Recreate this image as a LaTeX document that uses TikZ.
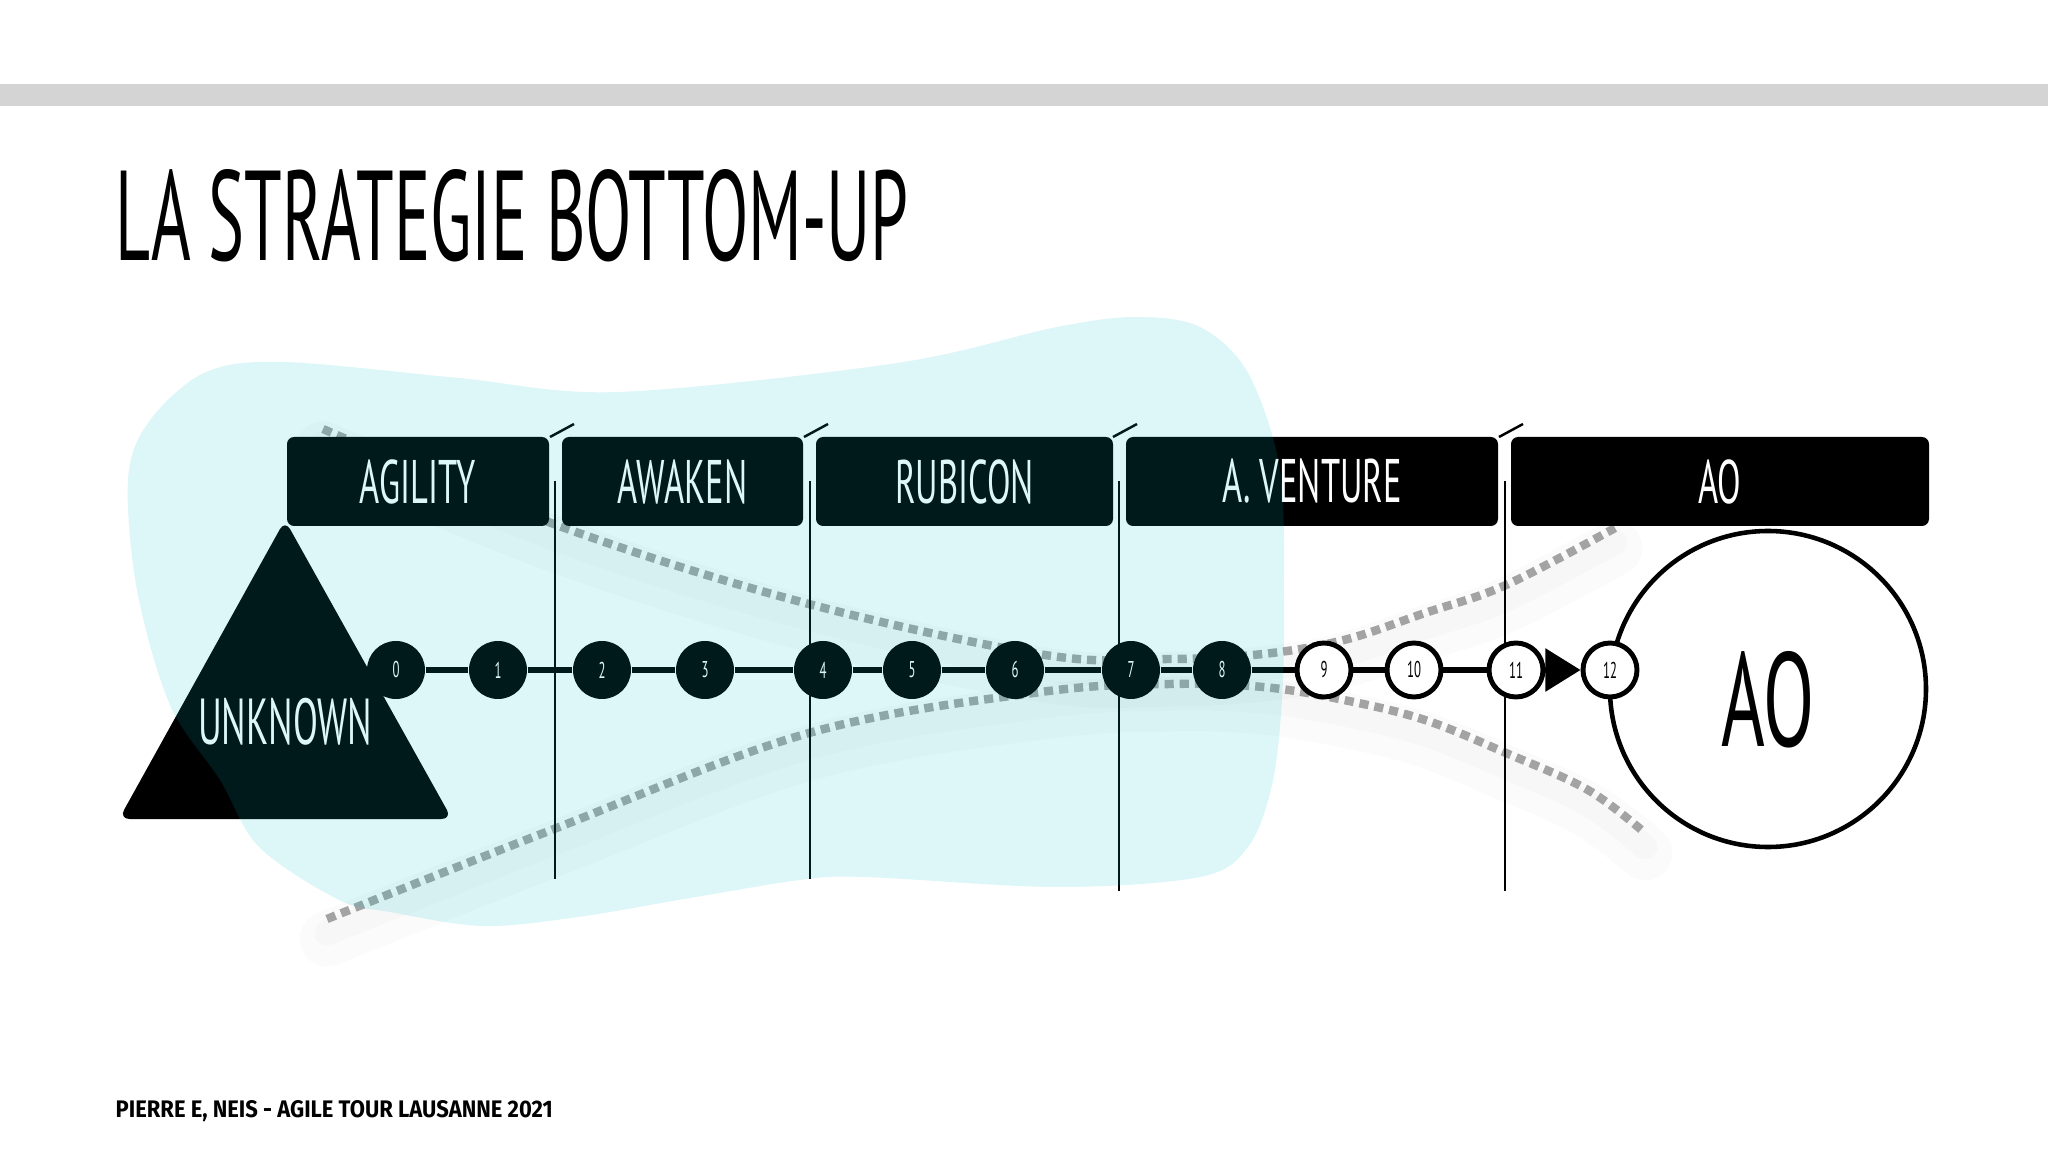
\documentclass[tikz,border=0pt]{standalone}
\usepackage{fontspec}
\usepackage{graphicx}
\usepackage{tikz}
\usetikzlibrary{arrows.meta}
\newfontfamily\handfont[FakeStretch=0.56]{PT Sans}
\newfontfamily\titlefont{PT Sans}
\newfontfamily\footfont{Fira Sans}
\definecolor{band}{HTML}{D4D4D4}
\definecolor{blob}{RGB}{0,195,210}
\definecolor{dots}{HTML}{A3A3A3}

\begin{document}
\begin{tikzpicture}[
  >=Stealth,
  phase/.style={fill=black, text=white, minimum width=#1, minimum height=0.89cm,
                inner sep=0pt, rounded corners=2pt,
                font=\handfont\fontsize{17.5}{18}\selectfont},
  dot/.style={circle, fill=black, text=white, minimum size=0.58cm, inner sep=0pt,
              font=\handfont\fontsize{6.5}{7}\selectfont},
  hollow/.style={circle, draw, line width=1.4pt, fill=white, minimum size=0.54cm,
                 inner sep=0pt, font=\handfont\fontsize{6.5}{7}\selectfont},
  link/.style={line width=1.5pt},
  sep/.style={line width=0.7pt},
  trail/.style={draw=dots, line width=2.4pt, dash pattern=on 2.6pt off 1.7pt},
  glow/.style={draw=black, line width=#1, opacity=0.016, line cap=round},
]
\useasboundingbox (0,0) rectangle (20.48,-11.52);
\fill[white] (0,0) rectangle (20.48,-11.52);
\fill[band] (0,-0.84) rectangle (20.48,-1.06);

% title and footer
\node[anchor=base west, inner sep=0pt] (title) at (1.15,-2.61)
  {\resizebox{7.93cm}{0.91cm}{\titlefont LA STRATEGIE BOTTOM-UP}};
\node[anchor=base west, inner sep=0pt] (credit) at (1.15,-11.17)
  {\resizebox{4.37cm}{0.17cm}{\footfont\bfseries PIERRE E, NEIS - AGILE TOUR LAUSANNE 2021}};

% dotted funnel (under the boxes)
\draw[glow=0.55cm, yshift=-0.2cm] plot[smooth, tension=0.6] coordinates {
  (3.23,-4.29) (5.62,-5.27) (8.05,-6.03) (10.45,-6.55) (11.70,-6.59)
  (12.63,-6.54) (13.44,-6.40) (14.25,-6.13) (15.06,-5.85) (16.15,-5.28)};
\draw[glow=0.25cm, yshift=-0.14cm] plot[smooth, tension=0.6] coordinates {
  (3.23,-4.29) (5.62,-5.27) (8.05,-6.03) (10.45,-6.55) (11.70,-6.59)
  (12.63,-6.54) (13.44,-6.40) (14.25,-6.13) (15.06,-5.85) (16.15,-5.28)};
\draw[glow=0.55cm, yshift=-0.2cm] plot[smooth, tension=0.6] coordinates {
  (3.27,-9.19) (5.54,-8.29) (8.09,-7.33) (10.41,-6.92) (11.70,-6.84)
  (12.63,-6.87) (13.44,-7.00) (14.25,-7.20) (15.06,-7.53) (15.88,-7.90) (16.45,-8.33)};
\draw[glow=0.25cm, yshift=-0.14cm] plot[smooth, tension=0.6] coordinates {
  (3.27,-9.19) (5.54,-8.29) (8.09,-7.33) (10.41,-6.92) (11.70,-6.84)
  (12.63,-6.87) (13.44,-7.00) (14.25,-7.20) (15.06,-7.53) (15.88,-7.90) (16.45,-8.33)};
\draw[trail] plot[smooth, tension=0.6] coordinates {
  (3.23,-4.29) (5.62,-5.27) (8.05,-6.03) (10.45,-6.55) (11.70,-6.59)
  (12.63,-6.54) (13.44,-6.40) (14.25,-6.13) (15.06,-5.85) (16.15,-5.28)};
\draw[trail] plot[smooth, tension=0.6] coordinates {
  (3.27,-9.19) (5.54,-8.29) (8.09,-7.33) (10.41,-6.92) (11.70,-6.84)
  (12.63,-6.87) (13.44,-7.00) (14.25,-7.20) (15.06,-7.53) (15.88,-7.90) (16.45,-8.33)};

% phases
\node[phase=2.62cm] (agility) at (4.18,-4.815)  {AGILITY};
\node[phase=2.41cm] (awaken)  at (6.825,-4.815) {AWAKEN};
\node[phase=2.97cm] (rubicon) at (9.645,-4.815) {RUBICON};
\node[phase=3.72cm] (venture) at (13.12,-4.815) {A. VENTURE};
\node[phase=4.18cm] (ao)      at (17.20,-4.815) {AO};

% separators
\draw[sep] (5.50,-4.37) -- (5.74,-4.24);
\draw[sep] (5.55,-4.81) -- (5.55,-8.79);
\draw[sep] (8.04,-4.37) -- (8.28,-4.24);
\draw[sep] (8.10,-4.81) -- (8.10,-8.79);
\draw[sep] (11.13,-4.37) -- (11.37,-4.24);
\draw[sep] (11.19,-4.81) -- (11.19,-8.91);
\draw[sep] (14.99,-4.37) -- (15.23,-4.24);
\draw[sep] (15.05,-4.81) -- (15.05,-8.91);

% start and goal
\fill[rounded corners=3pt] (2.85,-5.20) -- (4.52,-8.19) -- (1.19,-8.19) -- cycle;
\node[text=white, font=\handfont\fontsize{18.5}{19}\selectfont] (unknown) at (2.85,-7.22) {UNKNOWN};
\node[circle, draw, line width=1.3pt, fill=white, minimum size=3.16cm,
      label={[font=\handfont\fontsize{38}{40}\selectfont, yshift=-0.11cm]center:AO}]
  (goal) at (17.68,-6.89) {};

% steps
\node[dot]    (n0)  at (3.96,-6.70)  {0};
\node[dot]    (n1)  at (4.98,-6.70)  {1};
\node[dot]    (n2)  at (6.02,-6.70)  {2};
\node[dot]    (n3)  at (7.05,-6.70)  {3};
\node[dot]    (n4)  at (8.23,-6.70)  {4};
\node[dot]    (n5)  at (9.12,-6.70)  {5};
\node[dot]    (n6)  at (10.15,-6.70) {6};
\node[dot]    (n7)  at (11.31,-6.70) {7};
\node[dot]    (n8)  at (12.22,-6.70) {8};
\node[hollow] (n9)  at (13.24,-6.70) {9};
\node[hollow] (n10) at (14.14,-6.70) {10};
\node[hollow] (n11) at (15.16,-6.70) {11};
\node[hollow] (n12) at (16.10,-6.70) {12};

\draw[link] (n0) -- (n1) -- (n2) -- (n3) -- (n4) -- (n5) -- (n6)
  -- (n7) -- (n8) -- (n9) -- (n10) -- (n11);
\draw[link, -{Triangle[length=10pt, width=12pt]}] (n11) -- (n12);

% light blue wash on top
\fill[blob, fill opacity=0.133] plot[smooth cycle, tension=0.55] coordinates {
  (2.83,-3.62) (4.59,-3.78) (6.18,-3.92) (8.97,-3.63) (10.57,-3.27)
  (11.36,-3.17) (12.00,-3.27) (12.48,-3.73) (12.80,-4.70) (12.84,-6.00)
  (12.82,-7.00) (12.72,-7.85) (12.48,-8.47) (12.00,-8.77) (10.57,-8.87)
  (8.65,-8.77) (8.00,-8.80) (6.90,-8.98) (5.78,-9.17) (4.83,-9.26)
  (3.90,-9.12) (3.39,-9.00) (2.59,-8.47) (2.20,-7.80) (1.70,-7.05)
  (1.37,-5.90) (1.28,-4.80) (1.48,-4.23) (2.04,-3.73)};
\end{tikzpicture}
\end{document}
